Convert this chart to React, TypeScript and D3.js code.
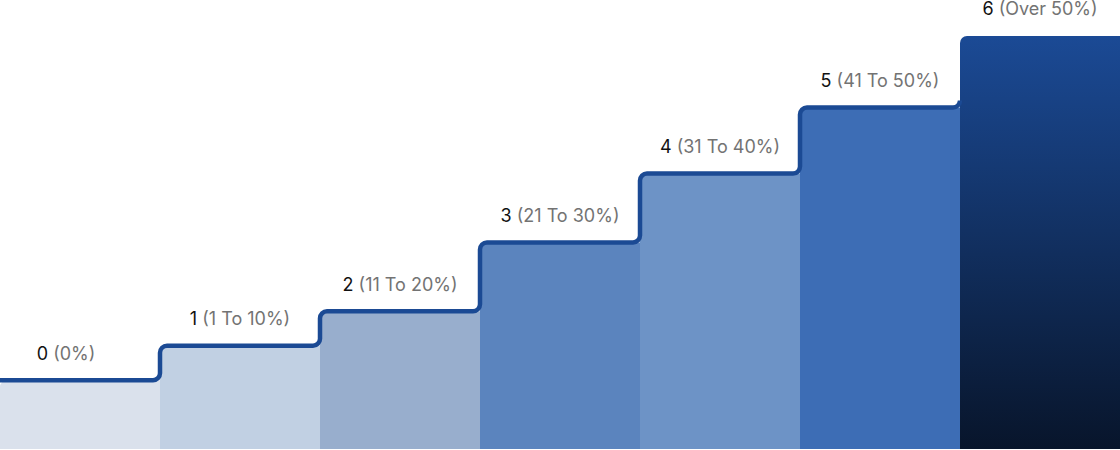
import { useEffect, useRef } from "react"
import * as d3 from "d3"

// step levels
const categories = ["0", "1", "2", "3", "4", "5", "6"]
const ranges = ["0%", "1 To 10%", "11 To 20%", "21 To 30%", "31 To 40%", "41 To 50%", "Over 50%"]
const levels = [1, 1.5, 2, 3, 4, 4.96, 6]
const fills = ["#dae1ec", "#c1d0e3", "#98aecd", "#5b84be", "#6d93c6", "#3d6db5", "url(#topGrad)"]

export default function App() {
  const svgRef = useRef<SVGSVGElement>(null)

  useEffect(() => {
    if (!svgRef.current) return

    const width = 1120
    const height = 450
    const bottom = 449
    const r = 7
    const lineColor = "#1b4a94"

    const svg = d3.select(svgRef.current).attr("width", width).attr("height", height)
    svg.selectAll("*").remove()

    const defs = svg.append("defs")
    const grad = defs
      .append("linearGradient")
      .attr("id", "topGrad")
      .attr("x1", 0)
      .attr("y1", 0)
      .attr("x2", 0)
      .attr("y2", 1)
    grad.append("stop").attr("offset", "0%").attr("stop-color", "#1b4a95")
    grad.append("stop").attr("offset", "100%").attr("stop-color", "#08152b")

    const xScale = d3.scaleBand().domain(categories).range([0, width]).padding(0)
    const yScale = d3.scaleLinear().domain([0, 6.5]).range([bottom, 1.5])
    const bw = xScale.bandwidth()

    const rows = categories.map((c, i) => ({ cat: c, range: ranges[i], level: levels[i], fill: fills[i] }))

    // bars, top-left corner rounded
    svg
      .selectAll(".bar")
      .data(rows)
      .enter()
      .append("path")
      .attr("class", "bar")
      .attr("fill", (d) => d.fill)
      .attr("d", (d) => {
        const x0 = xScale(d.cat) || 0
        const y0 = yScale(d.level)
        const p = d3.path()
        p.moveTo(x0, bottom)
        p.lineTo(x0, y0 + r)
        p.arcTo(x0, y0, x0 + r, y0, r)
        p.lineTo(x0 + bw, y0)
        p.lineTo(x0 + bw, bottom)
        p.closePath()
        return p.toString()
      })

    // rounded step outline across the first six bars
    const p = d3.path()
    p.moveTo(0, yScale(levels[0]))
    for (let i = 0; i < rows.length - 1; i++) {
      const xe = (xScale(categories[i]) || 0) + bw
      const ya = yScale(levels[i])
      const yb = yScale(levels[i + 1])
      p.arcTo(xe, ya, xe, yb, r)
      if (i < rows.length - 2) {
        p.arcTo(xe, yb, xe + bw, yb, r)
      } else {
        p.lineTo(xe, ya - r)
      }
    }
    svg
      .append("path")
      .attr("d", p.toString())
      .attr("fill", "none")
      .attr("stroke", lineColor)
      .attr("stroke-width", 4.5)
      .attr("stroke-linejoin", "round")

    const labels = svg
      .selectAll(".label")
      .data(rows)
      .enter()
      .append("text")
      .attr("class", "label")
      .attr("x", (d, i) => (xScale(d.cat) || 0) + bw / 2 - (i === 0 ? 14 : 0))
      .attr("y", (d) => yScale(d.level) - 20.5)
      .attr("text-anchor", "middle")
      .attr("font-family", "Inter, 'Noto Sans', sans-serif")
      .attr("font-size", "18px")

    labels.append("tspan").attr("fill", "#111111").text((d) => d.cat)
    labels
      .append("tspan")
      .attr("fill", "#737373")
      .text((d) => ` (${d.range})`)
  }, [])

  return <svg ref={svgRef} style={{ position: "absolute", left: 0, top: 0, display: "block" }} />
}
